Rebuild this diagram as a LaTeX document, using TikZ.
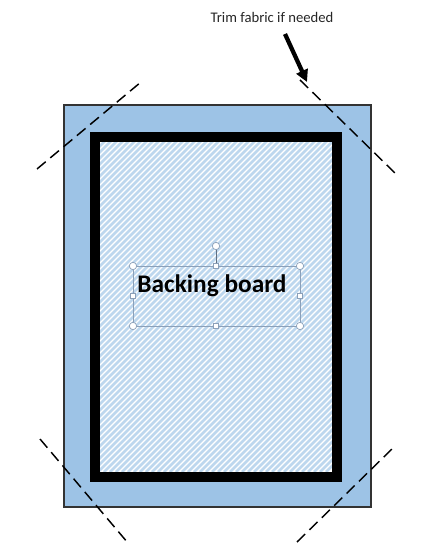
\documentclass[tikz,border=0pt]{standalone}
\usepackage{fontspec}
\setmainfont{Carlito}
\usetikzlibrary{arrows.meta}
\definecolor{outerblue}{HTML}{9DC3E6}
\definecolor{hatchblue}{HTML}{BDD7EE}
\definecolor{selgray}{HTML}{8BA0B9}
\tikzset{
  cutline/.style={line width=1.1pt, dash pattern=on 8.5pt off 4.5pt},
  handlesq/.style={draw=selgray, fill=white, line width=0.5pt, minimum size=4pt, inner sep=0pt, rectangle},
  handlecirc/.style={draw=selgray, fill=white, line width=0.5pt, minimum size=5.5pt, inner sep=0pt, circle},
}
\begin{document}
\begin{tikzpicture}[x=0.75pt,y=-0.75pt]
\useasboundingbox (0,0) rectangle (448,555);
% outer fabric
\draw[fill=outerblue, draw=black!80, line width=0.8pt] (64,105) rectangle (371,507);
% hatched board
\fill[white] (100,142) rectangle (332,472);
\begin{scope}
\clip (100,142) rectangle (332,472);
\foreach \i in {0,6,...,580} {
  \draw[hatchblue, line width=1.9pt] (100+\i-350,472) -- (100+\i,122);
}
\end{scope}
% black frame
\draw[line width=7.5pt] (95,137) rectangle (337,477);
% text box
\node[font=\bfseries\fontsize{19}{21}\selectfont, inner sep=0pt] (bb) at (212,286) {Backing board};
\coordinate (nw) at (133,266); \coordinate (ne) at (300,266);
\coordinate (sw) at (133,326); \coordinate (se) at (300,326);
\draw[selgray, line width=0.6pt] (nw) rectangle (se);
\coordinate (rot) at (216,246);
\draw[selgray!70!black, line width=0.6pt] (rot) -- (216,266);
\node[handlecirc] (hrot) at (rot) {};
\foreach \p in {nw,ne,sw,se} \node[handlecirc] at (\p) {};
\node[handlesq] (tm) at (216,266) {};
\node[handlesq] (bm) at (216,326) {};
\node[handlesq] (lm) at (133,296) {};
\node[handlesq] (rm) at (300,296) {};
% cut lines
\coordinate (a1) at (37,169); \coordinate (a2) at (141,82);
\coordinate (b1) at (40,439); \coordinate (b2) at (128,543);
\coordinate (c1) at (297,542); \coordinate (c2) at (394,447);
\coordinate (d1) at (300,80); \coordinate (d2) at (398,176);
\draw[cutline] (a1) -- (a2);
\draw[cutline] (b1) -- (b2);
\draw[cutline] (c1) -- (c2);
\draw[cutline] (d1) -- (d2);
% label and arrow
\node[font=\fontsize{11}{13}\selectfont, text=black!85] (lbl) at (272,17) {Trim fabric if needed};
\coordinate (tip) at (307,82);
\draw[line width=3.2pt, -{Triangle[length=9pt,width=9pt]}] (285,34) -- (tip);
\end{tikzpicture}
\end{document}
